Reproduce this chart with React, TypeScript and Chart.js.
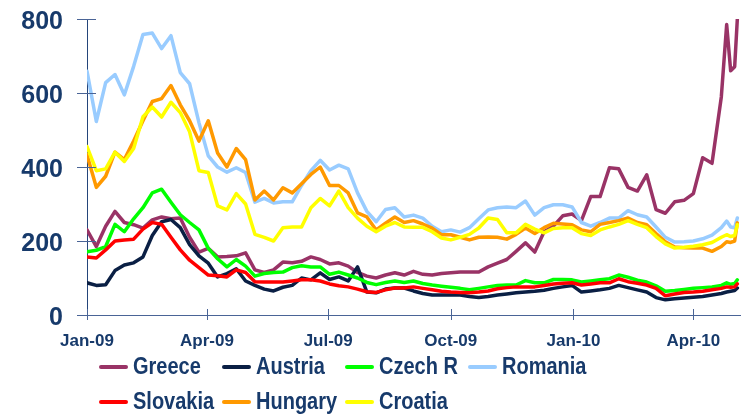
import React, { useEffect, useRef } from 'react';
import { Chart, registerables } from 'chart.js';

Chart.register(...registerables);

// Day offsets from 1 Jan 2009
const days = [0, 7, 14, 21, 28, 35, 42, 49, 56, 63, 70, 77, 84, 91, 98, 105, 112, 119, 126, 133, 140, 147, 154, 161, 168, 175, 182, 189, 196, 203, 210, 217, 224, 231, 238, 245, 252, 259, 266, 273, 280, 287, 294, 301, 308, 315, 322, 329, 336, 343, 350, 357, 364, 371, 378, 385, 392, 399, 406, 413, 420, 427, 434, 441, 448, 455, 462, 469, 476, 480, 483, 486, 488];

const tickDays = [0, 90, 181, 273, 365, 455];
const tickLabels = ['Jan-09', 'Apr-09', 'Jul-09', 'Oct-09', 'Jan-10', 'Apr-10'];
const yTicks = [0, 200, 400, 600, 800];

const seriesNames = ['Greece', 'Austria', 'Czech R', 'Romania', 'Slovakia', 'Hungary', 'Croatia'];
const seriesColors = ['#993366', '#0a1f44', '#00ff00', '#99ccff', '#ff0000', '#ff9900', '#ffff00'];

const greece = [230, 185, 240, 280, 250, 244, 235, 257, 265, 260, 262, 210, 170, 180, 157, 158, 160, 168, 122, 115, 122, 143, 141, 145, 157, 150, 138, 141, 132, 115, 105, 100, 108, 114, 108, 118, 110, 108, 112, 114, 116, 116, 116, 130, 140, 150, 172, 195, 170, 225, 240, 268, 273, 255, 320, 320, 398, 395, 345, 335, 379, 285, 275, 306, 310, 328, 425, 410, 590, 785, 660, 671, 800];
const austria = [87, 80, 82, 120, 135, 141, 157, 215, 252, 258, 236, 190, 160, 140, 103, 112, 125, 92, 80, 70, 65, 75, 80, 100, 95, 114, 96, 103, 92, 130, 62, 60, 70, 73, 73, 65, 58, 54, 54, 54, 54, 50, 47, 50, 54, 57, 60, 62, 64, 67, 72, 76, 80, 62, 65, 68, 72, 80, 74, 68, 62, 47, 41, 44, 46, 48, 50, 54, 58, 62, 64, 66, 73];
const czech = [171, 175, 185, 245, 225, 260, 290, 330, 340, 305, 271, 250, 230, 180, 152, 130, 150, 132, 105, 112, 115, 116, 128, 133, 130, 130, 110, 116, 108, 100, 88, 82, 88, 92, 88, 92, 85, 81, 78, 75, 72, 68, 72, 76, 80, 81, 81, 93, 87, 87, 96, 96, 95, 89, 92, 95, 98, 108, 102, 94, 89, 79, 64, 66, 69, 72, 74, 76, 80, 87, 83, 85, 95];
const romania = [659, 523, 628, 650, 595, 672, 758, 762, 720, 755, 655, 625, 520, 430, 400, 386, 398, 385, 305, 315, 303, 306, 306, 350, 390, 418, 392, 405, 395, 330, 280, 252, 285, 290, 265, 270, 262, 240, 225, 230, 224, 236, 260, 284, 290, 292, 290, 308, 270, 290, 298, 298, 292, 250, 240, 250, 262, 262, 282, 271, 265, 238, 210, 197, 198, 200, 206, 216, 236, 254, 238, 236, 262];
const slovakia = [157, 154, 176, 200, 203, 205, 232, 250, 245, 210, 176, 148, 128, 108, 106, 103, 122, 115, 90, 89, 89, 89, 92, 95, 95, 92, 84, 79, 76, 70, 63, 61, 68, 73, 73, 76, 72, 68, 64, 62, 61, 60, 62, 65, 71, 74, 76, 76, 76, 80, 84, 86, 87, 81, 84, 87, 87, 98, 90, 86, 81, 72, 52, 57, 61, 62, 64, 68, 72, 76, 75, 76, 84];
const hungary = [433, 345, 375, 440, 420, 470, 525, 577, 585, 620, 568, 525, 470, 525, 438, 400, 450, 420, 311, 335, 311, 344, 330, 355, 380, 400, 350, 350, 330, 276, 265, 230, 248, 265, 250, 255, 246, 235, 217, 217, 210, 203, 210, 211, 210, 205, 218, 235, 220, 236, 248, 246, 244, 230, 225, 245, 250, 255, 262, 250, 244, 220, 198, 184, 182, 181, 181, 172, 185, 198, 196, 200, 249];
const croatia = [455, 390, 395, 440, 415, 450, 536, 562, 535, 575, 547, 495, 390, 385, 295, 284, 328, 300, 218, 210, 200, 236, 238, 238, 290, 315, 295, 335, 290, 262, 240, 225, 240, 250, 238, 237, 237, 225, 208, 203, 210, 218, 235, 262, 258, 222, 222, 245, 232, 222, 234, 236, 236, 220, 215, 230, 238, 245, 255, 245, 236, 212, 192, 181, 183, 186, 190, 196, 210, 217, 212, 215, 244];

const seriesValues = [greece, austria, czech, romania, slovakia, hungary, croatia];

const FONT = '"Liberation Sans", Arial, sans-serif';
const TEXT_COLOR = '#173a6b';

const axisTicksAndLegend = {
  id: 'axisTicksAndLegend',
  afterDraw(chart: any) {
    const { ctx, chartArea, scales } = chart;
    const x = scales.x;
    const y = scales.y;
    ctx.save();
    ctx.strokeStyle = '#4a6496';
    ctx.lineWidth = 1;
    ctx.beginPath();
    yTicks.forEach((v) => {
      const py = Math.round(y.getPixelForValue(v)) + 0.5;
      ctx.moveTo(chartArea.left - 10, py);
      ctx.lineTo(chartArea.left + 9, py);
    });
    tickDays.forEach((d) => {
      const px = Math.round(x.getPixelForValue(d)) + 0.5;
      ctx.moveTo(px, chartArea.bottom - 6);
      ctx.lineTo(px, chartArea.bottom + 5);
    });
    ctx.stroke();

    // legend grid
    const colX = [100, 223, 346, 469];
    const rowY = [367, 402];
    chart.data.datasets.forEach((ds: any, i: number) => {
      const col = i % 4;
      const row = Math.floor(i / 4);
      const lx = colX[col];
      const ly = rowY[row];
      ctx.strokeStyle = ds.borderColor;
      ctx.lineWidth = 4;
      ctx.lineCap = 'round';
      ctx.beginPath();
      ctx.moveTo(lx + 1, ly);
      ctx.lineTo(lx + 26, ly);
      ctx.stroke();
      ctx.save();
      ctx.translate(lx + 33, ly + 1);
      ctx.scale(1, 1.15);
      ctx.fillStyle = TEXT_COLOR;
      ctx.font = `bold 20px ${FONT}`;
      ctx.textBaseline = 'middle';
      ctx.textAlign = 'left';
      ctx.fillText(ds.label, 0, 0);
      ctx.restore();
    });
    ctx.restore();
  },
};

export default function App() {
  const ref = useRef<HTMLCanvasElement | null>(null);

  useEffect(() => {
    if (!ref.current) return;
    const datasets = seriesNames.map((name, i) => ({
      label: name,
      data: days.map((d, j) => ({ x: d, y: seriesValues[i][j] })),
      borderColor: seriesColors[i],
      backgroundColor: seriesColors[i],
      borderWidth: 3.5,
      pointRadius: 0,
      tension: 0,
      borderJoinStyle: 'round' as const,
      borderCapStyle: 'round' as const,
      order: seriesNames.length - 1 - i,
    }));
    const chart = new Chart(ref.current, {
      type: 'line',
      data: { datasets },
      options: {
        animation: false,
        responsive: false,
        maintainAspectRatio: false,
        layout: { padding: { top: 19, right: 11, left: 0, bottom: 0 } },
        plugins: {
          legend: { display: false },
          tooltip: { enabled: false },
        },
        scales: {
          x: {
            type: 'linear',
            min: 0,
            max: 490,
            grid: { display: false, drawTicks: false },
            border: { display: true, color: '#4a6496', width: 1 },
            afterBuildTicks: (s: any) => {
              s.ticks = tickDays.map((v) => ({ value: v }));
            },
            afterFit: (s: any) => {
              s.height = 100;
              s.paddingLeft = 0;
              s.paddingRight = 0;
            },
            ticks: {
              autoSkip: false,
              maxRotation: 0,
              padding: 16,
              color: TEXT_COLOR,
              font: { family: FONT, size: 17, weight: 'bold' },
              callback: (v: any) => {
                const idx = tickDays.indexOf(Number(v));
                return idx >= 0 ? tickLabels[idx] : '';
              },
            },
          },
          y: {
            min: 0,
            max: 800,
            grid: { display: false, drawTicks: false },
            border: { display: true, color: '#24457a', width: 1 },
            afterBuildTicks: (s: any) => {
              s.ticks = yTicks.map((v) => ({ value: v }));
            },
            afterFit: (s: any) => {
              s.width = 87;
              s.paddingTop = 0;
              s.paddingBottom = 0;
            },
            ticks: {
              padding: 24,
              labelOffset: 3,
              color: TEXT_COLOR,
              font: { family: FONT, size: 25, weight: 'bold' },
              callback: (v: any) => String(v),
            },
          },
        },
      },
      plugins: [axisTicksAndLegend],
    });
    return () => chart.destroy();
  }, []);

  return (
    <div style={{ position: 'absolute', left: 0, top: 0, width: 751, height: 415, background: '#fff' }}>
      <canvas ref={ref} width={751} height={415} style={{ display: 'block' }} />
    </div>
  );
}
